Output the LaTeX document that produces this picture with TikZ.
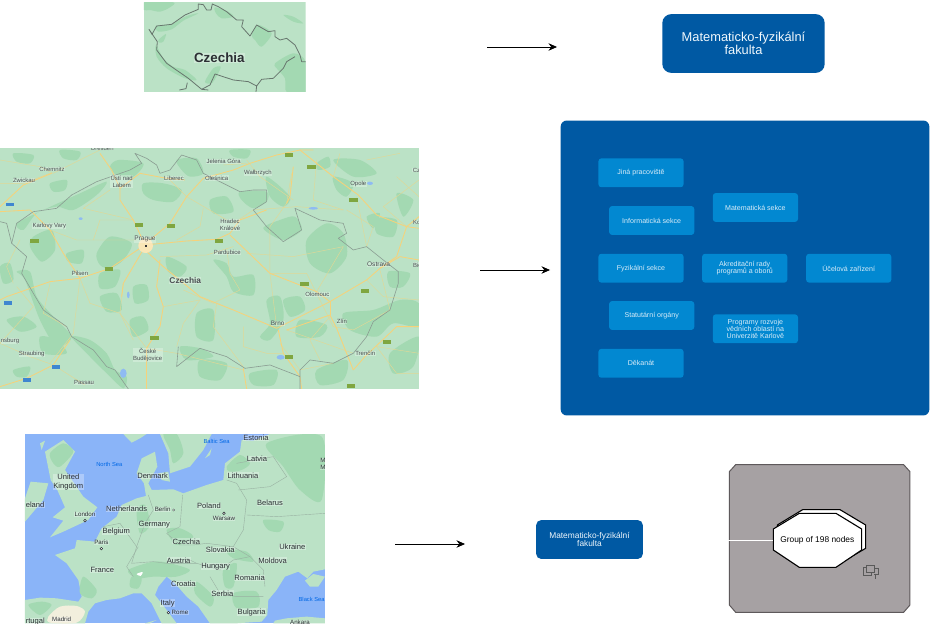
\documentclass[tikz,border=0pt]{standalone}
\usepackage{fontspec}
\usetikzlibrary{arrows.meta}
\setmainfont{Liberation Sans}
\definecolor{land}{HTML}{BBE2C6}
\definecolor{forest}{HTML}{A3D9B2}
\definecolor{road}{HTML}{F6D27A}
\definecolor{sea}{HTML}{8AB4F8}
\definecolor{fac}{HTML}{0059A3}
\definecolor{sub}{HTML}{0288D1}
\definecolor{subtext}{HTML}{D8ECF8}
\definecolor{mapborder}{HTML}{8A9C92}
\definecolor{panel}{HTML}{A6A1A3}
\definecolor{paneledge}{HTML}{5E595B}
\definecolor{labeltext}{HTML}{2B2F33}
\definecolor{shieldgreen}{HTML}{7FA640}
\definecolor{shieldblue}{HTML}{3F86D0}
\definecolor{lake}{HTML}{8FBBF2}
\definecolor{beige}{HTML}{F2EFDD}
\tikzset{
  arrowline/.style={draw=black,line width=0.8pt,-{Stealth[length=8.5pt,width=7.5pt]}},
  woods/.style={fill=forest,draw=none},
  mainroad/.style={draw=road,line width=0.85pt,line join=round},
  minorroad/.style={draw=road!65!land,line width=0.45pt,line join=round},
  cz/.style={draw=mapborder,line width=0.6pt,line join=round},
  topcz/.style={draw=mapborder!75!black,line width=0.8pt,line join=round},
  eub/.style={draw=mapborder!70!land,line width=0.4pt,line join=round},
  shield/.style={fill=shieldgreen,draw=none},
  bshield/.style={fill=shieldblue,draw=none},
  ml/.style={inner sep=0.3pt,font=\fontsize{6}{6}\selectfont,text=labeltext!85!white,fill=white,fill opacity=.28,text opacity=1},
  mlb/.style={ml,font=\bfseries\fontsize{8.4}{8.4}\selectfont},
  el/.style={inner sep=0.3pt,font=\fontsize{7.6}{7.6}\selectfont,text=labeltext,fill=white,fill opacity=.3,text opacity=1},
  els/.style={el,font=\fontsize{6.2}{6.2}\selectfont},
  seal/.style={inner sep=0pt,font=\fontsize{5.8}{5.8}\selectfont,text=blue!55!cyan!90!black},
  facbox/.style={fill=fac,draw=none,rounded corners=9pt,align=center,text=subtext!40!white,inner sep=0pt},
  subbox/.style={fill=sub,draw=none,rounded corners=3pt,minimum width=85.5pt,minimum height=29pt,inner sep=0pt,align=center,text=subtext,font=\fontsize{7.1}{7.3}\selectfont},
}
\begin{document}
\begin{tikzpicture}[x=1bp,y=-1bp]
\useasboundingbox (0,0) rectangle (931,625);
\fill[white] (0,0) rectangle (931,625);

% ---------- small map (top) ----------
\begin{scope}[shift={(130,0)},x=0.3333bp,y=-0.3333bp]
\clip (42,7) rectangle (527,276);
\fill[land] (42,7) rectangle (527,276);
\fill[woods] plot[smooth cycle] coordinates {(42,7)(130,7)(120,22)(90,35)(60,30)(42,30)};
\fill[woods] plot[smooth cycle] coordinates {(78,78)(125,72)(170,48)(205,40)(160,62)(125,88)(85,95)};
\fill[woods] plot[smooth cycle] coordinates {(255,22)(295,35)(310,50)(275,55)(258,40)};
\fill[woods] plot[smooth cycle] coordinates {(365,105)(385,75)(425,100)(395,140)(375,120)};
\fill[woods] plot[smooth cycle] coordinates {(460,45)(490,50)(520,70)(490,65)};
\fill[woods] plot[smooth cycle] coordinates {(85,120)(108,102)(100,125)(88,128)};
\fill[woods] plot[smooth cycle] coordinates {(78,135)(100,175)(130,200)(165,210)(200,240)(165,235)(110,205)(80,170)};
\fill[woods] plot[smooth cycle] coordinates {(435,190)(490,160)(527,185)(527,276)(470,276)(465,235)(440,205)};
\fill[woods] plot[smooth cycle] coordinates {(250,205)(272,200)(262,225)(245,250)(225,245)};
\draw[topcz] (65,100)--(57,88)--(66,103)--(80,78)--(125,73)--(165,45)--(205,28)--(205,12)--(220,14)--(230,30)--(243,30)--(247,12)--(265,20)--(290,35)--(320,60)--(340,60)--(335,80)--(360,108)--(380,75)--(415,95)--(435,92)--(435,110)--(450,120)--(470,115)--(495,135)--(510,165)--(515,185)--(527,185);
\draw[topcz] (495,170)--(470,185)--(460,205)--(430,235)--(395,238)--(380,258)--(355,245)--(310,240)--(255,222)--(240,255)--(215,268)--(175,235)--(110,190)--(80,150)--(82,125)--(65,100);
\draw[topcz] (380,258)--(378,276);
\draw[topcz] (172,248)--(168,266)--(148,270);
\draw[topcz] (215,268)--(235,270);
\node[inner sep=0.5pt,font=\bfseries\fontsize{13.4}{13.4}\selectfont,text=labeltext,fill=white,fill opacity=.3,text opacity=1] (czechiaTop) at (268,174) {Czechia};
\end{scope}

% ---------- country map ----------
\begin{scope}[shift={(0,140)},x=0.3333bp,y=-0.3333bp]
\clip (0,25) rectangle (1257,747);
\fill[land] (0,25) rectangle (1257,747);
\fill[woods] plot[smooth cycle] coordinates {(355,60)(430,70)(400,110)(350,105)(330,80)};
\fill[woods] plot[smooth cycle] coordinates {(50,250)(130,210)(240,160)(320,125)(290,165)(220,210)(170,200)(110,220)(70,270)};
\fill[woods] plot[smooth cycle] coordinates {(100,290)(155,270)(165,330)(125,365)(90,320)};
\fill[woods] plot[smooth cycle] coordinates {(75,420)(50,395)(90,395)(110,470)(160,530)(215,590)(170,620)(120,540)};
\fill[woods] plot[smooth cycle] coordinates {(215,590)(270,600)(320,640)(345,690)(380,710)(370,745)(320,700)(260,640)};
\fill[woods] plot[smooth cycle] coordinates {(290,340)(330,290)(395,310)(370,360)(330,385)(300,375)};
\fill[woods] plot[smooth cycle] coordinates {(300,400)(360,390)(345,440)(300,445)};
\fill[woods] plot[smooth cycle] coordinates {(430,130)(490,130)(545,150)(520,185)(460,180)(430,160)};
\fill[woods] plot[smooth cycle] coordinates {(530,60)(590,55)(610,100)(570,110)(545,90)};
\fill[woods] plot[smooth cycle] coordinates {(640,360)(680,370)(700,410)(760,405)(760,465)(700,455)(680,410)};
\fill[woods] plot[smooth cycle] coordinates {(720,155)(800,155)(800,185)(760,205)(725,180)};
\fill[woods] plot[smooth cycle] coordinates {(800,110)(870,170)(850,200)(810,170)};
\fill[woods] plot[smooth cycle] coordinates {(885,230)(905,270)(850,300)(790,265)(840,240)};
\fill[woods] plot[smooth cycle] coordinates {(920,300)(980,250)(1030,280)(1040,350)(990,400)(930,370)};
\fill[woods] plot[smooth cycle] coordinates {(1000,60)(1080,60)(1130,100)(1060,110)};
\fill[woods] plot[smooth cycle] coordinates {(1130,235)(1190,240)(1180,290)(1130,280)};
\fill[woods] plot[smooth cycle] coordinates {(1120,510)(1200,480)(1257,490)(1257,560)(1180,550)(1130,590)(1050,570)(1030,520)};
\fill[woods] plot[smooth cycle] coordinates {(540,620)(600,625)(640,650)(560,660)};
\fill[woods] plot[smooth cycle] coordinates {(780,590)(810,550)(800,480)(840,470)(850,540)(810,600)};
\fill[woods] plot[smooth cycle] coordinates {(850,480)(900,470)(915,510)(870,530)};
\fill[woods] plot[smooth cycle] coordinates {(1170,640)(1257,590)(1240,680)(1180,700)};
\fill[woods] plot[smooth cycle] coordinates {(400,440)(440,435)(445,480)(405,490)};
\fill[woods] plot[smooth cycle] coordinates {(590,520)(640,510)(640,600)(590,590)};
\fill[woods] plot[smooth cycle] coordinates {(1000,110)(1060,130)(1040,170)(1010,150)};
\fill[woods] plot[smooth cycle] coordinates {(40,690)(90,680)(80,710)(50,710)};
\fill[woods] plot[smooth cycle] coordinates {(1190,160)(1240,180)(1210,230)};
\fill[woods] plot[smooth cycle] coordinates {(20,540)(70,530)(110,560)(60,575)};
\fill[woods] plot[smooth cycle] coordinates {(0,380)(30,370)(40,420)(10,430)};
\fill[woods] plot[smooth cycle] coordinates {(180,30)(240,35)(230,60)(190,55)};
\fill[woods] plot[smooth cycle] coordinates {(40,40)(100,45)(90,70)(50,65)};
\fill[woods] plot[smooth cycle] coordinates {(150,130)(200,120)(195,150)(160,155)};
\fill[woods] plot[smooth cycle] coordinates {(200,340)(250,330)(245,370)(205,365)};
\fill[woods] plot[smooth cycle] coordinates {(300,470)(350,460)(365,510)(320,515)};
\fill[woods] plot[smooth cycle] coordinates {(390,540)(430,530)(445,570)(400,590)};
\fill[woods] plot[smooth cycle] coordinates {(500,350)(560,380)(540,410)(505,395)};
\fill[woods] plot[smooth cycle] coordinates {(630,180)(680,170)(700,215)(640,220)};
\fill[woods] plot[smooth cycle] coordinates {(690,30)(750,30)(740,55)(700,50)};
\fill[woods] plot[smooth cycle] coordinates {(950,70)(985,50)(990,80)(955,90)};
\fill[woods] plot[smooth cycle] coordinates {(900,540)(980,555)(960,590)(890,590)};
\fill[woods] plot[smooth cycle] coordinates {(600,660)(680,670)(660,720)(600,710)};
\fill[woods] plot[smooth cycle] coordinates {(750,700)(830,690)(820,735)(760,735)};
\fill[woods] plot[smooth cycle] coordinates {(950,690)(1040,660)(1030,720)(960,735)};
\fill[woods] plot[smooth cycle] coordinates {(120,590)(170,600)(200,640)(130,640)};
\fill[woods] plot[smooth cycle] coordinates {(1100,230)(1140,220)(1120,265)};
\fill[woods] plot[smooth cycle] coordinates {(1165,395)(1230,400)(1210,440)(1170,440)};
% minor roads
\draw[minorroad] (0,60)--(120,80)--(160,100)--(260,50)--(300,30);
\draw[minorroad] (0,130)--(70,130)--(150,100);
\draw[minorroad] (250,205)--(330,150);
\draw[minorroad] (250,205)--(400,240);
\draw[minorroad] (150,270)--(230,300)--(410,300);
\draw[minorroad] (240,415)--(270,490)--(360,520)--(440,625);
\draw[minorroad] (240,415)--(220,580)--(150,670);
\draw[minorroad] (370,430)--(360,520);
\draw[minorroad] (480,350)--(620,345)--(700,320);
\draw[minorroad] (560,170)--(680,240);
\draw[minorroad] (560,170)--(500,110);
\draw[minorroad] (610,205)--(600,260)--(530,300);
\draw[minorroad] (680,325)--(690,400)--(720,450)--(640,490);
\draw[minorroad] (600,480)--(550,550)--(530,620);
\draw[minorroad] (650,490)--(640,560)--(730,680);
\draw[minorroad] (810,400)--(830,560);
\draw[minorroad] (810,400)--(920,400)--(950,460);
\draw[minorroad] (700,250)--(760,210)--(890,200)--(1030,210);
\draw[minorroad] (875,100)--(860,190)--(810,260)--(810,400);
\draw[minorroad] (950,460)--(1000,560)--(1060,570);
\draw[minorroad] (860,570)--(1060,640);
\draw[minorroad] (1070,170)--(1100,320);
\draw[minorroad] (1170,510)--(1140,390);
\draw[minorroad] (1220,260)--(1150,200)--(1257,120);
\draw[minorroad] (1000,670)--(900,690)--(840,610);
\draw[minorroad] (440,625)--(530,640)--(730,690);
\draw[minorroad] (0,610)--(90,650)--(160,675)--(255,735);
\draw[minorroad] (50,440)--(100,500)--(0,610);
\draw[minorroad] (740,60)--(780,110)--(880,180);
\draw[minorroad] (670,75)--(740,70);
\draw[minorroad] (1130,620)--(1257,640);
\draw[minorroad] (60,300)--(20,380)--(40,430);
\draw[minorroad] (150,430)--(130,520)--(200,560);
\draw[minorroad] (280,300)--(300,240)--(400,240);
\draw[minorroad] (1000,110)--(1020,40);
\draw[minorroad] (1040,210)--(1120,260)--(1100,320);
\draw[minorroad] (950,60)--(940,180)--(1030,210);
\draw[minorroad] (1030,320)--(950,455);
\draw[minorroad] (740,340)--(880,350)--(1030,320);
\draw[minorroad] (640,490)--(550,450);
\draw[minorroad] (360,520)--(400,600);
\draw[minorroad] (490,500)--(600,480);
\draw[minorroad] (1100,420)--(1150,470)--(1257,480);
\draw[minorroad] (1060,570)--(1170,510);
\draw[minorroad] (1130,620)--(1190,700)--(1257,700);
\draw[minorroad] (990,530)--(930,600)--(960,660);
\draw[minorroad] (730,560)--(730,620)--(800,640)--(850,640);
\draw[minorroad] (1100,60)--(1200,40);
\draw[minorroad] (1190,110)--(1257,170);
% main roads
\draw[mainroad] (435,315)--(560,303)--(650,298)--(690,280)--(720,240)--(800,210);
\draw[mainroad] (435,315)--(330,385)--(240,415)--(150,425)--(20,470)--(0,480);
\draw[mainroad] (240,415)--(190,340)--(150,270)--(90,210)--(0,215);
\draw[mainroad] (435,315)--(400,240)--(360,180)--(360,145)--(335,90)--(300,40);
\draw[mainroad] (360,145)--(420,100)--(500,115)--(555,120);
\draw[mainroad] (450,300)--(510,250)--(560,170)--(610,115)--(700,90)--(750,70)--(830,45)--(900,30)--(940,30);
\draw[mainroad] (435,330)--(490,380)--(600,470)--(700,510)--(830,565);
\draw[mainroad] (830,565)--(990,485)--(1100,420)--(1140,385)--(1200,350)--(1257,360);
\draw[mainroad] (835,570)--(850,640)--(900,710)--(905,747);
\draw[mainroad] (860,570)--(990,525)--(1010,565)--(1060,690);
\draw[mainroad] (990,485)--(990,525);
\draw[mainroad] (690,285)--(810,400)--(950,455)--(990,485);
\draw[mainroad] (440,625)--(480,560)--(490,500)--(470,440)--(480,360);
\draw[mainroad] (440,625)--(440,747);
\draw[mainroad] (900,30)--(1000,110)--(1075,165)--(1130,225)--(1220,260)--(1257,265);
\draw[mainroad] (1140,385)--(1190,350)--(1220,260)--(1257,230);
\draw[mainroad] (1060,690)--(1095,650)--(1190,560)--(1257,560);
\draw[mainroad] (435,320)--(370,430)--(365,470);
\draw[mainroad] (0,740)--(80,715)--(160,675)--(210,600);
\draw[mainroad] (0,200)--(70,135)--(155,100);
\draw[mainroad] (880,80)--(870,170)--(860,190);
\draw[mainroad] (730,685)--(740,747);
\fill[road!55!white] (437,317) circle (22);
% borders
\draw[cz] (0,245)--(20,250)--(35,310)--(80,350)--(65,400)--(100,460)--(130,510)--(200,560)--(215,590)--(280,630)--(320,680)--(345,690)--(385,747);
\draw[cz] (35,310)--(50,250)--(100,215)--(170,205)--(215,165)--(290,125)--(390,90)--(425,70)--(405,40)--(440,55)--(470,75)--(480,100)--(510,90)--(545,45)--(590,60)--(610,100)--(660,125)--(720,155)--(760,150)--(800,150)--(800,185)--(760,210)--(800,260)--(850,305)--(905,270)--(885,205)--(960,240)--(1030,250)--(1040,280)--(1015,295)--(1060,330)--(1100,320)--(1150,360)--(1195,395)--(1195,430)--(1170,510)--(1120,545)--(1100,590)--(1060,640)--(1000,670)--(930,660)--(900,690)--(900,747);
\draw[cz] (900,710)--(810,675)--(735,685)--(680,650)--(600,625)--(530,680)--(535,620);
% shields
\foreach \sx/\sy in {854/40,922/76,1048/174,404/248,500/252,90/296,644/298,314/381,900/426,1082/446,450/588,854/646,1148/600,1040/733}{
  \fill[shield] (\sx,\sy) rectangle ++(26,12);
}
\foreach \sx/\sy in {18/188,12/484,155/675,70/714}{
  \fill[bshield] (\sx,\sy) rectangle ++(24,11);
}
\fill[lake] (370,700) ellipse (10 and 14);
\fill[lake] (385,465) ellipse (4 and 10);
\fill[lake] (842,652) ellipse (12 and 7);
\fill[lake] (242,236) ellipse (6 and 4);
\fill[lake] (1110,130) ellipse (9 and 5);
\fill[lake] (940,205) ellipse (14 and 4);
\fill[black!80] (435,316) rectangle ++(6,6);
\node[ml] (dresden) at (307,24) {Dresden};
\node[ml] (chemnitz) at (156,87) {Chemnitz};
\node[ml] (zwickau) at (72,121) {Zwickau};
\node[ml,align=center] (usti) at (365,125) {Ústí nad\\[1pt]Labem};
\node[ml] (liberec) at (522,116) {Liberec};
\node[ml] (jelenia) at (671,64) {Jelenia Góra};
\node[ml] (walbrzych) at (774,99) {Wałbrzych};
\node[ml] (klodzko) at (650,114) {Oleśnica};
\node[ml] (opole) at (1075,133) {Opole};
\node[ml] (karlovy) at (148,259) {Karlovy Vary};
\node[ml,font=\fontsize{6.6}{6.6}\selectfont] (prague) at (435,298) {Prague};
\node[ml,align=center] (hradec) at (690,256) {Hradec\\[1pt]Králové};
\node[ml] (pardubice) at (682,338) {Pardubice};
\node[mlb] (czechiaMid) at (556,422) {Czechia};
\node[ml] (pilsen) at (240,400) {Pilsen};
\node[ml,font=\fontsize{6.6}{6.6}\selectfont] (ostrava) at (1136,373) {Ostrava};
\node[ml] (olomouc) at (952,463) {Olomouc};
\node[ml,font=\fontsize{6.4}{6.4}\selectfont] (brno) at (833,550) {Brno};
\node[ml] (zlin) at (1026,544) {Zlín};
\node[ml] (trencin) at (1096,640) {Trenčín};
\node[ml,align=center] (budejovice) at (443,645) {České\\[1pt]Budějovice};
\node[ml] (straubing) at (95,641) {Straubing};
\node[ml,anchor=west] (regensburg) at (1,604) {nsburg};
\node[ml] (passau) at (252,729) {Passau};
\node[ml,anchor=west] (cz1) at (1237,90) {Cz};
\node[ml,anchor=west] (ko1) at (1238,246) {Ko};
\node[ml,anchor=west] (bie1) at (1238,375) {Bie};
\end{scope}

% ---------- Europe map ----------
\begin{scope}[shift={(20,430)},x=0.3333bp,y=-0.3333bp]
\clip (15,12) rectangle (915,580);
\fill[sea] (15,12) rectangle (915,580);
% continent
\fill[land] (15,510)--(60,503)--(110,505)--(175,515)--(185,500)--(175,450)--(140,400)--(105,375)--(165,355)--(170,330)--(225,335)--(245,295)--(290,260)--(305,225)--(350,205)--(378,198)--(372,160)--(350,130)--(365,85)--(405,65)--(412,110)--(385,160)--(395,180)--(460,178)--(490,190)--(560,165)--(610,150)--(615,100)--(660,65)--(665,30)--(700,32)--(750,12)--(915,12)--(915,418)--(880,425)--(862,445)--(835,425)--(795,440)--(770,480)--(745,510)--(742,555)--(725,575)--(650,580)--(570,580)--(535,530)--(500,500)--(465,460)--(440,440)--(415,470)--(405,495)--(440,540)--(470,580)--(425,580)--(395,520)--(365,490)--(340,490)--(300,505)--(260,510)--(225,520)--(205,545)--(195,580)--(15,580)--cycle;
\fill[land] (420,12)--(445,70)--(450,130)--(510,110)--(550,60)--(575,12)--cycle;
\fill[land] (310,12)--(335,38)--(360,25)--(380,12)--cycle;
\fill[land] (555,85)--(575,55)--(570,75)--cycle;
\fill[land] (415,130)--(445,125)--(450,155)--(425,150)--cycle;
\fill[land] (75,65)--(130,30)--(165,65)--(135,120)--(190,200)--(232,232)--(205,270)--(130,305)--(90,322)--(130,272)--(98,262)--(135,232)--(112,180)--(92,150)--(82,100)--cycle;
\fill[land] (15,205)--(32,155)--(85,160)--(70,210)--(15,275)--cycle;
\fill[land] (60,40)--(75,32)--(65,60)--cycle;
\fill[land] (855,452)--(880,432)--(915,440)--(895,470)--(870,470)--cycle;
\fill[land] (765,572)--(800,565)--(860,560)--(915,565)--(915,580)--(760,580)--cycle;
\fill[land] (375,580)--(410,570)--(390,580)--cycle;
% terrain
\fill[woods] plot[smooth cycle] coordinates {(90,70)(130,40)(160,65)(120,110)(100,100)};
\fill[woods] plot[smooth cycle] coordinates {(430,12)(470,12)(490,70)(460,100)(450,60)};
\fill[woods] plot[smooth cycle] coordinates {(740,40)(905,20)(905,210)(840,180)(790,110)};
\fill[woods] plot[smooth cycle] coordinates {(620,110)(660,75)(690,100)(665,120)(630,125)};
\fill[woods] plot[smooth cycle] coordinates {(730,270)(790,275)(780,305)(745,300)};
\fill[woods] plot[smooth cycle] coordinates {(325,420)(400,395)(450,400)(510,420)(470,440)(400,440)(350,445)};
\fill[woods] plot[smooth cycle] coordinates {(335,440)(365,445)(355,475)(330,470)};
\fill[woods] plot[smooth cycle] coordinates {(190,440)(230,480)(215,505)(180,490)};
\fill[woods] plot[smooth cycle] coordinates {(620,360)(680,365)(700,395)(640,385)};
\fill[woods] plot[smooth cycle] coordinates {(610,420)(650,400)(640,470)(615,470)};
\fill[woods] plot[smooth cycle] coordinates {(530,455)(580,500)(570,530)(525,490)};
\fill[woods] plot[smooth cycle] coordinates {(440,300)(480,295)(520,320)(470,345)};
\fill[woods] plot[smooth cycle] coordinates {(640,490)(710,485)(715,530)(650,535)};
\fill[woods] plot[smooth cycle] coordinates {(25,525)(65,515)(95,525)(60,555)};
\fill[woods] plot[smooth cycle] coordinates {(350,240)(375,225)(390,285)(360,310)};
\fill[beige] plot[smooth cycle] coordinates {(85,560)(120,530)(170,528)(195,545)(170,578)(90,578)};
\fill[white] plot[smooth cycle] coordinates {(350,432)(368,426)(362,438)};
\draw[eub] (385,195)--(400,240)--(375,280)--(350,350)--(335,400)--(400,395)--(440,400)--(530,400)--(500,385);
\draw[eub] (488,195)--(480,290)--(440,310)--(480,345)--(520,345)--(560,340)--(640,350)--(670,300)--(680,210)--(650,160)--(620,150);
\draw[eub] (640,350)--(690,380)--(730,420)--(735,470);
\draw[eub] (530,400)--(600,420)--(640,390)--(690,380);
\draw[eub] (680,255)--(770,260)--(915,250);
\draw[eub] (655,180)--(750,170)--(800,140)--(760,80)--(650,100);
\draw[eub] (250,290)--(300,280)--(350,350);
\draw[eub] (570,440)--(600,490)--(650,500)--(730,500);
\draw[eub] (355,350)--(320,410)--(340,440);
\node[seal] (balticsea) at (590,33) {Baltic Sea};
\node[seal] (northsea) at (268,104) {North Sea};
\node[seal] (blacksea) at (875,509) {Black Sea};
\node[el] (estonia) at (708,24) {Estonia};
\node[el] (latvia) at (711,87) {Latvia};
\node[el] (lithuania) at (669,136) {Lithuania};
\node[el,align=center] (uk) at (145,156) {United\\[1.5pt]Kingdom};
\node[el] (denmark) at (398,138) {Denmark};
\node[el,anchor=west] (ireland) at (16,225) {eland};
\node[el] (netherlands) at (320,237) {Netherlands};
\node[els] (berlin) at (428,239) {Berlin};
\fill[labeltext] (461,240) circle (4);
\fill[white] (461,240) circle (2);
\node[el] (poland) at (567,228) {Poland};
\node[el] (belarus) at (750,218) {Belarus};
\node[els] (london) at (195,253) {London};
\fill[labeltext] (195,272) circle (5);
\fill[white] (195,272) circle (2);
\node[els] (warsaw) at (612,265) {Warsaw};
\fill[labeltext] (612,250) circle (5);
\fill[white] (612,250) circle (2);
\node[el] (germany) at (403,283) {Germany};
\node[el] (belgium) at (289,305) {Belgium};
\node[el] (czechiaEu) at (499,334) {Czechia};
\node[els] (paris) at (244,338) {Paris};
\fill[labeltext] (244,356) circle (5);
\fill[white] (244,356) circle (2);
\node[el] (slovakia) at (601,359) {Slovakia};
\node[el] (ukraine) at (817,350) {Ukraine};
\node[el] (austria) at (476,391) {Austria};
\node[el] (moldova) at (758,391) {Moldova};
\node[el] (hungary) at (587,409) {Hungary};
\node[el] (france) at (247,419) {France};
\node[el] (romania) at (689,444) {Romania};
\node[el] (croatia) at (490,462) {Croatia};
\node[el] (serbia) at (607,490) {Serbia};
\node[el] (italy) at (443,520) {Italy};
\node[els] (rome) at (480,548) {Rome};
\fill[labeltext] (445,548) circle (5);
\fill[white] (445,548) circle (2);
\node[el] (bulgaria) at (695,547) {Bulgaria};
\node[els] (madrid) at (125,569) {Madrid};
\node[el,anchor=west] (portugal) at (16,575) {rtugal};
\node[els] (ankara) at (840,577) {Ankara};
\node[els,anchor=west] (mi) at (900,90) {M};
\node[els,anchor=west] (mi2) at (900,113) {M};
\end{scope}

% ---------- faculty node top ----------
\node[facbox,minimum width=163pt,minimum height=59pt,font=\fontsize{12.9}{12.9}\selectfont] (facTop) at (743.5,43.5) {Matematicko-fyzikální\\fakulta};

% ---------- big expanded group ----------
\node[fill=fac,draw=none,rounded corners=6pt,minimum width=370pt,minimum height=296pt,inner sep=0pt] (facBig) at (745,268) {};
\node[subbox] (jina) at (641,172.8) {Jiná pracoviště};
\node[subbox] (info) at (651.7,220.5) {Informatická sekce};
\node[subbox] (mat) at (755.4,207.5) {Matematická sekce};
\node[subbox] (fyz) at (641,268.2) {Fyzikální sekce};
\node[subbox] (akr) at (744.7,268.2) {Akreditační rady\\programů a oborů};
\node[subbox] (ucel) at (848.7,268.2) {Účelová zařízení};
\node[subbox] (stat) at (651.7,315.5) {Statutární orgány};
\node[subbox] (prog) at (755.4,328.8) {Programy rozvoje\\vědních oblastí na\\Univerzitě Karlově};
\node[subbox] (dek) at (641,363.3) {Děkanát};

% ---------- bottom faculty node ----------
\node[facbox,rounded corners=5pt,minimum width=107pt,minimum height=39pt,font=\fontsize{8.4}{8.8}\selectfont] (facLow) at (589.5,539.5) {Matematicko-fyzikální\\fakulta};

% ---------- grey panel with group ----------
\begin{scope}[shift={(720,460)},x=0.3333bp,y=-0.3333bp]
\fill[panel,draw=paneledge,line width=1pt] (47,14)--(551,14)--(570,35)--(570,435)--(551,457)--(47,457)--(28,435)--(28,35)--cycle;
\coordinate (groupIn) at (25,240);
\fill[white,draw=black,line width=1.1pt] (172,195)--(248,149)--(360,149)--(437,195)--(437,265)--(360,310)--(248,310)--(172,265)--cycle;
\fill[white,draw=black,line width=1.1pt] (160,207)--(238,160)--(348,160)--(425,207)--(425,270)--(348,322)--(238,322)--(160,270)--cycle;
\coordinate (groupEdge) at (160,240);
\node[inner sep=0pt,font=\fontsize{8.4}{8.4}\selectfont] (groupLabel) at (292,241) {Group of 198 nodes};
\draw[white,line width=0.7pt] (groupIn)--(groupEdge);
\draw[black!65,line width=0.7pt] (440,315) rectangle (463,338);
\draw[black!65,line width=0.7pt] (440,322)--(430,322)--(430,345)--(455,345)--(455,338);
\draw[black!65,line width=0.7pt] (463,325)--(475,325)--(475,342)--(463,342);
\draw[black!65,line width=0.7pt] (465,342)--(465,356);
\end{scope}

% ---------- arrows ----------
\coordinate (a1s) at (487,47);
\coordinate (a1e) at (557,47);
\coordinate (a2s) at (480,270);
\coordinate (a2e) at (550,270);
\coordinate (a3s) at (395,544);
\coordinate (a3e) at (465,544);
\draw[arrowline] (a1s)--(a1e);
\draw[arrowline] (a2s)--(a2e);
\draw[arrowline] (a3s)--(a3e);
\end{tikzpicture}
\end{document}
